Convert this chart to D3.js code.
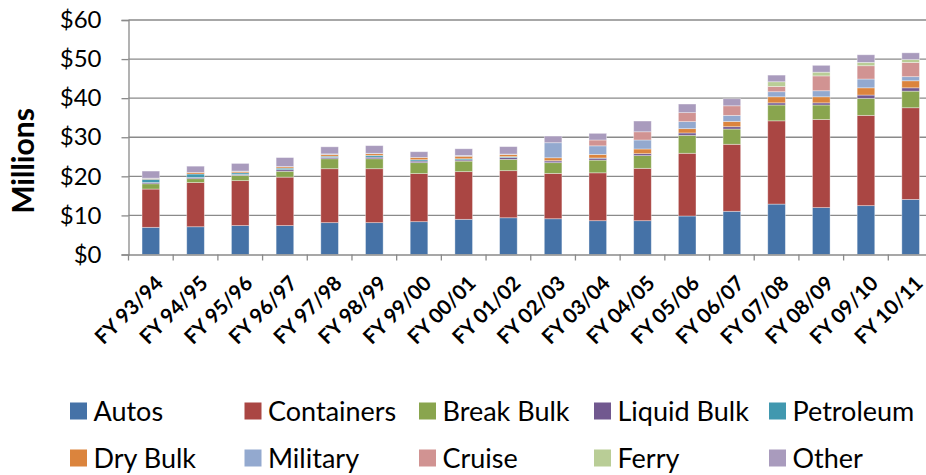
<!DOCTYPE html>
<html>
<head>
<meta charset="utf-8">
<script src="https://cdn.jsdelivr.net/npm/d3@7"></script>
<style>
  html, body { margin: 0; padding: 0; background: #fff; }
  svg { display: block; }
</style>
</head>
<body>
<svg id="chart" width="926" height="475"></svg>
<script>
// ---- data ----
const categories = ["FY 93/94","FY 94/95","FY 95/96","FY 96/97","FY 97/98","FY 98/99","FY 99/00","FY 00/01","FY 01/02","FY 02/03","FY 03/04","FY 04/05","FY 05/06","FY 06/07","FY 07/08","FY 08/09","FY 09/10","FY 10/11"];
const seriesNames = ["Autos","Containers","Break Bulk","Liquid Bulk","Petroleum","Dry Bulk","Military","Cruise","Ferry","Other"];
const seriesColors = ["#4572A7","#AA4643","#89A54E","#71588F","#4198AF","#DB843D","#93A9CF","#D19392","#B9CD96","#A99BBD"];
const autos      = [6.95, 7.1, 7.4, 7.4, 8.15, 8.15, 8.4, 9.0, 9.4, 9.15, 8.65, 8.65, 9.85, 11.05, 12.9, 12.0, 12.5, 14.1];
const containers = [9.8, 11.3, 11.5, 12.4, 13.8, 13.8, 12.3, 12.2, 12.05, 11.6, 12.25, 13.4, 16.05, 17.15, 21.3, 22.55, 23.1, 23.45];
const breakBulk  = [1.35, 1.0, 1.35, 1.5, 2.55, 2.55, 2.8, 2.7, 2.9, 2.75, 3.25, 3.25, 4.6, 3.9, 4.05, 3.7, 4.35, 4.25];
const liquidBulk = [0.3, 0.3, 0.25, 0.4, 0.35, 0.4, 0.4, 0.3, 0.45, 0.45, 0.5, 0.5, 0.6, 0.6, 0.55, 0.55, 0.85, 0.85];
const petroleum  = [0.85, 0.9, 0.4, 0.4, 0.3, 0.45, 0.35, 0.3, 0.25, 0.05, 0.05, 0, 0, 0, 0, 0, 0, 0];
const dryBulk    = [0.2, 0.4, 0.35, 0.35, 0.45, 0.45, 0.6, 0.65, 0.55, 0.75, 0.9, 1.2, 1.1, 1.35, 1.55, 1.55, 1.85, 1.8];
const military   = [0.1, 0, 0.1, 0.05, 0.15, 0.1, 0, 0.2, 0.1, 3.85, 2.2, 2.3, 1.8, 1.55, 1.3, 1.55, 2.25, 1.05];
const cruise     = [0, 0, 0, 0, 0, 0, 0, 0, 0, 0, 1.5, 2.1, 2.3, 2.45, 1.35, 3.8, 3.4, 3.65];
const ferry      = [0, 0, 0, 0, 0, 0, 0, 0, 0, 0, 0, 0, 0, 0, 1.2, 0.95, 0.85, 0.75];
const other      = [1.8, 1.6, 1.95, 2.3, 1.8, 1.95, 1.45, 1.7, 1.9, 1.7, 1.7, 2.75, 2.2, 1.8, 1.7, 1.75, 1.95, 1.7];
const yTicks = [0, 10, 20, 30, 40, 50, 60];
const yTitle = "Millions";

// ---- build table ----
const seriesValues = [autos, containers, breakBulk, liquidBulk, petroleum, dryBulk, military, cruise, ferry, other];
const table = categories.map((c, i) => {
  const row = { cat: c };
  seriesNames.forEach((s, j) => row[s] = seriesValues[j][i]);
  return row;
});
const stacked = d3.stack().keys(seriesNames)(table);

// ---- layout ----
const svg = d3.select("#chart");
const plotL = 128.5, plotR = 933, plotT = 20, plotB = 254.5;
const FONT = "Lato, 'Open Sans', sans-serif";
const GRID = "#8a8a8a";

const x = d3.scaleBand().domain(categories).range([plotL, plotR]).paddingInner(0.606).paddingOuter(0.303);
const y = d3.scaleLinear().domain([0, 60]).range([plotB, plotT]);

// gridlines
svg.append("g").selectAll("line").data(yTicks.filter(t => t > 0)).join("line")
  .attr("x1", plotL).attr("x2", plotR)
  .attr("y1", d => y(d)).attr("y2", d => y(d))
  .attr("stroke", GRID).attr("stroke-width", 1.3);

// bars
const colorOf = d3.scaleOrdinal().domain(seriesNames).range(seriesColors);
svg.append("g").selectAll("g").data(stacked).join("g")
  .attr("fill", d => colorOf(d.key))
  .selectAll("rect").data(d => d).join("rect")
  .attr("x", d => x(d.data.cat))
  .attr("width", x.bandwidth())
  .attr("y", d => y(d[1]))
  .attr("height", d => Math.max(0, y(d[0]) - y(d[1])))
  .attr("stroke", "rgba(255,255,255,0.45)")
  .attr("stroke-width", 0.8);

// y axis
const yAxis = svg.append("g").attr("transform", `translate(${plotL},0)`)
  .call(d3.axisLeft(y).tickValues(yTicks).tickSize(7).tickPadding(20).tickFormat(d => "$" + d));
yAxis.select(".domain").attr("stroke", GRID).attr("stroke-width", 1.3);
yAxis.selectAll(".tick line").attr("stroke", GRID).attr("stroke-width", 1.3);
yAxis.selectAll(".tick text").attr("font-family", FONT).attr("font-size", 24).attr("fill", "#000");

// x axis
const xAxis = svg.append("g").attr("transform", `translate(0,${plotB})`)
  .call(d3.axisBottom(x).tickSize(0).tickFormat(""));
xAxis.select(".domain").attr("stroke", GRID).attr("stroke-width", 1.3);
// boundary ticks between categories
svg.append("g").selectAll("line").data(d3.range(categories.length + 1)).join("line")
  .attr("x1", i => plotL + i * x.step()).attr("x2", i => plotL + i * x.step())
  .attr("y1", plotB).attr("y2", plotB + 6)
  .attr("stroke", GRID).attr("stroke-width", 1.3);
// rotated labels
svg.append("g").selectAll("text").data(categories).join("text")
  .attr("transform", d => `translate(${x(d) + x.bandwidth() / 2 + 8.5},${plotB + 25}) rotate(-45)`)
  .attr("text-anchor", "end")
  .attr("dy", "0.35em")
  .attr("font-family", FONT).attr("font-weight", "bold").attr("font-size", 20.5)
  .attr("fill", "#000")
  .text(d => d);

// y title
svg.append("text")
  .attr("transform", `translate(34,161) rotate(-90)`)
  .attr("text-anchor", "middle")
  .attr("font-family", FONT).attr("font-weight", "bold").attr("font-size", 30)
  .attr("fill", "#000")
  .text(yTitle);

// legend
const legX = [70, 244.5, 419, 594, 769];
const legY = [411, 458];
const leg = svg.append("g").selectAll("g").data(seriesNames).join("g")
  .attr("transform", (d, i) => `translate(${legX[i % 5]},${legY[Math.floor(i / 5)]})`);
leg.append("rect").attr("x", 0).attr("y", -8.5).attr("width", 17).attr("height", 17)
  .attr("fill", d => colorOf(d));
leg.append("text").attr("x", 23.5).attr("y", 0).attr("dy", "0.36em")
  .attr("font-family", FONT).attr("font-size", 27).attr("fill", "#000")
  .text(d => d);
</script>
</body>
</html>
